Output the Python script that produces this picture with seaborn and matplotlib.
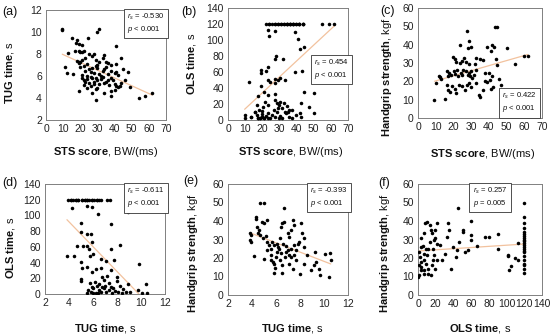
import matplotlib
matplotlib.use("Agg")
import matplotlib.pyplot as plt
import numpy as np
import pandas as pd
import seaborn as sns

# ---------------------------------------------------------------------------
# data (approximate)
# ---------------------------------------------------------------------------
# (a) STS score vs TUG time
sts_a = [9.5, 9.6, 15, 18, 17.5, 24.5, 30, 31, 41, 19, 21,
         13, 17, 19, 20, 21, 22, 25, 28, 34,
         18, 19, 20, 19.5, 21, 23, 27, 29, 31, 33, 35, 36, 41, 44, 24, 30, 38,
         11, 12, 16, 20, 22, 23, 25, 26, 27, 28, 29, 30, 31, 33, 34, 35, 36,
         38, 40, 41, 42, 45, 48, 21, 24, 32,
         21, 22, 23, 24, 25, 26, 27, 28, 29, 30, 31, 32, 33, 34, 35, 36, 37,
         38, 39, 40, 41, 42, 43, 44, 46, 49, 26, 28, 22,
         19.5, 24, 27, 29, 34, 38, 38, 40, 54, 58, 62, 29, 30]
tug_a = [10.3, 10.2, 9.5, 9.3, 9.0, 9.5, 10.0, 10.3, 8.7, 8.9, 8.8,
         8.1, 8.3, 8.3, 8.2, 8.2, 8.3, 8.0, 8.0, 7.9,
         7.4, 7.3, 7.3, 7.2, 7.5, 7.6, 7.8, 7.5, 7.3, 7.6, 7.3, 7.2, 7.1, 7.6,
         7.1, 7.0, 7.0,
         6.8, 6.3, 6.2, 6.8, 6.9, 6.5, 6.6, 6.4, 6.7, 6.3, 6.9, 6.7, 6.2, 6.5,
         6.6, 6.8, 6.2, 6.5, 6.3, 6.4, 6.1, 6.6, 6.4, 6.1, 6.0, 6.0,
         5.8, 5.6, 5.5, 5.7, 5.4, 5.9, 5.8, 5.5, 5.8, 5.6, 5.3, 5.7, 5.9, 5.4,
         5.5, 5.6, 5.2, 5.8, 5.6, 5.3, 5.1, 5.0, 5.1, 5.4, 5.6, 5.0, 5.1, 5.3,
         5.2,
         4.6, 4.9, 4.5, 3.8, 4.5, 4.6, 4.2, 4.7, 4.0, 4.2, 4.5, 4.8, 4.9]

# (b) STS score vs OLS time (many subjects capped at 120 s, dots overlap)
sts_b = [22, 24, 25.8, 27.5, 29.2, 31, 32.8, 34.5, 36.2, 38, 39.7, 41.5,
         43.5, 55, 59, 62,
         24, 27.5, 31, 34.5, 38, 41.5, 43.5, 36.2, 29.2, 39.7,
         32.8, 34.5, 36.2, 38, 41.5, 43.5,
         23.2, 24, 27.2, 39.1, 41.1, 41.9, 44.4, 27.2, 28, 32,
         19.2, 19.2, 23.2, 22.4, 39.1, 43.1, 12.3, 19.2, 23.6, 24.6, 27.2, 27.6,
         29.4, 30.6, 33.5, 21.2, 17.7, 23.2, 27.2, 44.2, 50.4,
         21.4, 23.6, 27.6, 28.6, 29.6, 30.6, 32.5, 34.5, 16.7, 18.1, 19.6, 20.6,
         42.5, 47, 50.4,
         9.7, 10.1, 13.7, 15.7, 16.7, 17.7, 18.7, 19.6, 20.1, 21.2, 22, 23.2,
         23.6, 24.6, 25.6, 26.6, 27.6, 28.6, 29.6, 30.6, 31.5, 33.1, 33.9, 35.1,
         35.5, 37.5, 39.5, 41.9, 42.5, 29.2, 31.5, 35.5, 37.5,
         13.7, 15.7, 17.7, 18.7, 19.6, 21.2]
ols_b = [120] * 32 + \
        [113, 104.6, 110.9, 109.6, 101.7, 88.7, 90.8, 76.6, 79.5, 76.6,
         62.8, 58.6, 65.7, 60.7, 59.8, 61.5, 47.3, 42.7, 50.2, 48.1, 46, 51.5,
         50.2, 52.3, 50.2, 34.7, 30.5, 31.4, 32.2, 35.6, 34.3,
         22.2, 18.8, 25.1, 20.9, 18.8, 23, 20.9, 18, 18.8, 12.6, 11.3, 16.7,
         20.9, 16.7, 9.2,
         2, 6.3, 4.2, 9.6, 6.3, 2.9, 2.1, 4.2, 7.1, 2.1, 5.4, 8.4,
         2.9, 2.1, 6.3, 12.6, 4.2, 10.5, 2.1, 5.4, 2.1, 10.5, 8.4, 10.5,
         4.2, 2.9, 6.3, 8.4, 4.2, 14.6, 14.6, 12.6, 12.6,
         4.2, 9.6, 2.9, 2.1, 4.2, 2.1]

# (c) STS score vs handgrip strength
sts_c = [43.2, 44.4, 27.6, 23.7, 29, 28, 30, 38.9, 41.8, 42.8, 41.2, 50.3,
         19.5, 20.7, 26, 32.9, 34.9, 36.5, 21.5, 23.5, 25, 27, 29, 31.9,
         44.8, 55, 59.6, 62, 43.8,
         16.2, 17.6, 18.7, 20.1, 21.1, 22.1, 22.7, 24.1, 25, 25.4, 27, 28, 29,
         29.4, 30, 30.6, 31.4, 32.9, 37.9, 39.8, 41.8, 45.8, 40.8, 38.9,
         10.3, 12.8, 11.6, 16.2, 16.8, 18.1, 19.1, 20.7, 21.5, 23.1, 24.6,
         26.6, 27.4, 30, 32.9, 34.9, 34.5, 41.2, 42.4, 47.1, 36.9, 37.9, 29,
         9.3, 15.2, 12.2, 16.8]
grip_c = [49.5, 49.6, 47.3, 39.6, 41.8, 38.2, 38.5, 38.5, 39.6, 38.5, 36.7,
          38.2,
          33.1, 32.4, 32.7, 32.7, 32.4, 31.8, 30.5, 30, 30.9, 30.5, 29.5, 29.5,
          28.7, 29.5, 33.6, 33.6, 32.4,
          25.8, 24.5, 23.6, 25.5, 24, 26.4, 22.7, 24.5, 23.6, 26.4, 25.5, 23.6,
          24.5, 22.7, 25.8, 21.8, 23.6, 26.4, 24.5, 24.5, 22.7, 21.5, 20.9,
          19.6,
          19.1, 21.5, 22.7, 18.2, 15.5, 14.2, 17.3, 16, 13.6, 18.2, 17.3, 15.5,
          18.2, 16.7, 19.1, 11.3, 12.4, 16, 16.7, 17.8, 15.5, 20, 19.1,
          10, 10.4, 22.2, 22.7]

# (d) TUG time vs OLS time
tug_d = [3.95, 4.15, 4.35, 4.55, 4.75, 5.1, 5.3, 5.5, 5.7, 5.9, 6.1, 6.3,
         6.5, 6.7, 7.2, 7.45,
         4.15, 4.55, 5.1, 5.5, 5.9, 6.3, 4.75, 5.3,
         4.23, 5.46, 5.94, 6.4, 8.91, 5.03, 4.97, 5.46, 5.83, 7.54, 5.94, 8.23,
         3.83, 4.4, 4.69, 5.17, 5.46, 5.66, 6.03, 6.69, 7.09, 5.74, 7.46, 7.74,
         9.83,
         4.97, 5.09, 5.46, 5.89, 6.23, 6.69, 7.17, 7.46, 8.03,
         4.97, 5.03, 5.74, 5.89, 6.17, 6.31, 6.51, 6.74, 6.89, 7.03, 7.31,
         7.66, 8.03, 8.23, 8.46, 8.89, 9.09, 9.74, 10.4, 10.46, 10.1,
         5.6, 5.83, 6.03, 6.23, 6.46, 6.69, 6.89, 7.09, 7.31, 7.6, 7.83, 8.11,
         8.4, 8.74, 6.74, 6.4, 6.03, 5.54, 7.54]
ols_d = [120] * 24 + \
        [110, 112, 111, 102, 104.4, 90.5, 79, 77, 77, 88.8, 66.4, 62.2,
         49, 49, 61, 61, 61, 56.7, 50.7, 44, 42.3, 48.2, 57.9, 43.1, 38.1,
         40.6, 32.6, 33.8, 28.3, 31.3, 32.6, 22.8, 30.4, 22,
         18.6, 16.9, 13.5, 9.3, 15.6, 10.1, 12.7, 21.1, 17.8, 10.1, 13.5,
         7.2, 16.9, 10.1, 5.9, 12.7, 3, 5.1, 12.7, 1.7, 1.7,
         5.1, 3, 7.2, 1.7, 5.1, 2.5, 7.2, 3, 5.1, 1.7, 4.2, 2.5,
         1.7, 2.5, 9.3, 0.8, 0.8, 0.8, 8.5]

# (e) TUG time vs handgrip strength
tug_e = [4.65, 5.04, 6.68, 4.34, 4.37, 3.86, 3.92, 3.86, 3.92, 4.2,
         4.42, 4.56, 4.85, 5.04, 5.21, 4.48, 4.7, 4.93, 5.13, 5.27,
         5.41, 5.21, 4.99, 5.55, 5.61, 5.77, 5.83, 5.89, 5.97, 6.11, 6.17,
         6.34, 6.45, 6.54, 6.68, 6.96, 7.1, 7.24, 7.38, 7.46,
         6.62, 6.82, 6.96, 7.1, 7.24, 7.52, 7.66, 7.8, 7.94, 8.08, 8.14, 8.31,
         8.37,
         6.34, 6.54, 6.73, 7.1, 7.38, 7.66, 8.03, 8.37, 8.59, 8.93, 9.15, 9.35,
         9.27, 9.63, 9.55, 10.06, 10.48, 10.39, 10.56,
         5.83, 6.54,
         5.55, 5.69, 5.83, 6.06, 6.25, 6.39, 6.82, 7.24, 7.52]
grip_e = [49.5, 49.9, 46.8, 42, 40.9, 33.6, 32.4, 30, 28.8, 21,
          36.9, 35.1, 39.6, 38.7, 40.5, 33.3, 32.4, 30.6, 31.8, 28.8,
          26.9, 24.2, 19.7, 21.5, 18.8, 17.9, 17, 14.8, 20.6, 23.3, 26,
          30.6, 36.9, 38.7, 39.6, 33.3, 31.5, 35.1, 40.5, 37.8,
          27.5, 26.4, 24.2, 21.5, 25.1, 26.9, 24.2, 27.8, 28.8, 38.7, 33.3,
          30.6, 26,
          18.8, 16.1, 20.6, 17, 14.3, 18.8, 11.6, 17, 21.5, 13.4, 16.1, 17.9,
          23.3, 10.7, 14.3, 22.4, 22.8, 9.8, 18.8,
          11.9, 11.9,
          25.1, 28.8, 26.9, 27.8, 25.1, 22.8, 23.3, 20.6, 21.5]

# (f) OLS time vs handgrip strength
ols_f = [120] * 22 + \
        [102.4, 104.7, 110, 113, 102, 112.6,
         45.7, 60.2, 89.8, 76, 80, 90.6, 101.6, 66.1, 60.2, 60.2, 56.3, 53.5,
         50.4, 50.9, 46.1, 44.5, 42.5, 39.4, 37.8, 32.7, 35.4, 33.9, 30.7,
         26.8, 24.8, 20.9, 19.7, 18.9, 20.9, 17,
         3.1, 3.9, 1.2, 2.4, 3.1, 1.2, 3.9, 6.3, 9.1, 10.2, 11.8, 13, 7.1,
         7.9, 10.2, 13, 14.2, 15.7, 18.1, 1.2, 6.3, 11, 14.2, 5.1, 9.1, 6.3,
         16.9, 19.7, 15.7, 18.1, 22, 7.1, 11.8, 3.1, 0.3]
grip_f = [50, 42, 39, 36, 34, 33, 32, 31, 30, 29, 28, 27, 26, 25, 24, 23,
          21, 19, 17, 16, 14, 12] + \
         [13.4, 15.6, 20, 19, 21, 28.2,
          46.8, 40.1, 32.9, 31.1, 31.1, 24.6, 21.5, 26.4, 32.4, 29.7, 24.2,
          23.3, 35.4, 34.2, 28.8, 24.2, 20.3, 26, 14.3, 31.5, 35.1, 38.7,
          22.4, 18.8, 26.9, 38.7, 35.1, 30.6, 27.8, 25.1,
          30.6, 26, 23.3, 20.6, 17.9, 16.1, 15.2, 18.8, 17, 21.5, 25.1, 28.8,
          33.3, 38.7, 39.6, 37.8, 35.1, 33.3, 29.7, 10.7, 11.2, 11.6, 10.7,
          26.4, 25.1, 22.4, 18.8, 14.3, 16.1, 21.5, 18.8, 13.4, 14.3, 13.7,
          9.8]

# ---------------------------------------------------------------------------
# style
# ---------------------------------------------------------------------------
sns.set_theme(style="white")
plt.rcParams["font.family"] = ["Liberation Sans", "DejaVu Sans"]
plt.rcParams["mathtext.fontset"] = "custom"
plt.rcParams["mathtext.rm"] = "Liberation Sans"
plt.rcParams["mathtext.it"] = "Liberation Sans:italic"
plt.rcParams["mathtext.bf"] = "Liberation Sans:bold"

LINHA = "#F2C29E"
MOLDURA = "#808080"

W, H = 550, 336
fig = plt.figure(figsize=(W / 100, H / 100), dpi=100)


def eixo(esq, topo, dir_, base):
    """Axes placed in pixel coords of the 550x336 canvas."""
    return fig.add_axes([esq / W, 1 - base / H, (dir_ - esq) / W,
                         (base - topo) / H])


paineis = [
    dict(x=sts_a, y=tug_a, pos=(46, 10, 166, 120), xlim=(0, 70),
         ylim=(2, 12), xt=range(0, 71, 10), yt=range(2, 13, 2),
         xl=r"$\bf{STS\ score}$, BW/(ms)", yl=r"$\bf{TUG\ time}$, s",
         xlc=(0.5, -0.29), ylc=(-0.30, 0.43), txt=(0.675, 0.88),
         rs="-0.530", p="< 0.001", tag="(a)", tagpos=(2, 12)),
    dict(x=sts_b, y=ols_b, pos=(228, 8, 348, 120), xlim=(0, 70),
         ylim=(0, 140), xt=range(0, 71, 10), yt=range(0, 141, 20),
         xl=r"$\bf{STS\ score}$, BW/(ms)", yl=r"$\bf{OLS\ time}$, s",
         xlc=(0.52, -0.286), ylc=(-0.30, 0.5), txt=(0.717, 0.455),
         rs="0.454", p="< 0.001", tag="(b)", tagpos=(181, 12)),
    dict(x=sts_c, y=grip_c, pos=(418, 8, 542, 118), xlim=(0, 70),
         ylim=(0, 60), xt=range(0, 71, 10), yt=range(0, 61, 10),
         xl=r"$\bf{STS\ score}$, BW/(ms)", yl=r"$\bf{Handgrip\ strength}$, kgf",
         xlc=(0.52, -0.33), ylc=(-0.25, 0.37), txt=(0.677, 0.14),
         rs="0.422", p="< 0.001", tag="(c)", tagpos=(380, 11)),
    dict(x=tug_d, y=ols_d, pos=(45, 184, 165, 294), xlim=(2, 12),
         ylim=(0, 140), xt=range(2, 13, 2), yt=range(0, 141, 20),
         xl=r"$\bf{TUG\ time}$, s", yl=r"$\bf{OLS\ time}$, s",
         xlc=(0.5, -0.31), ylc=(-0.29, 0.42), txt=(0.683, 0.877),
         rs="-0.611", p="< 0.001", tag="(d)", tagpos=(2, 183)),
    dict(x=tug_e, y=grip_e, pos=(228, 184, 348, 295), xlim=(2, 12),
         ylim=(0, 60), xt=range(2, 13, 2), yt=range(0, 61, 10),
         xl=r"$\bf{TUG\ time}$, s", yl=r"$\bf{Handgrip\ strength}$, kgf",
         xlc=(0.54, -0.305), ylc=(-0.29, 0.38), txt=(0.683, 0.88),
         rs="-0.393", p="< 0.001", tag="(e)", tagpos=(183, 181)),
    dict(x=ols_f, y=grip_f, pos=(418, 184, 542, 295), xlim=(0, 140),
         ylim=(0, 60), xt=range(0, 141, 20), yt=range(0, 61, 10),
         xl=r"$\bf{OLS\ time}$, s", yl=r"$\bf{Handgrip\ strength}$, kgf",
         xlc=(0.5, -0.305), ylc=(-0.27, 0.38), txt=(0.44, 0.88),
         rs="0.257", p="= 0.005", tag="(f)", tagpos=(378, 183)),
]

for pn in paineis:
    ax = eixo(*pn["pos"])
    df = pd.DataFrame({"x": pn["x"], "y": pn["y"]})
    sns.regplot(data=df, x="x", y="y", ax=ax, scatter=False, ci=None,
                line_kws=dict(color=LINHA, lw=0.9))
    sns.scatterplot(data=df, x="x", y="y", ax=ax, color="black", s=6.5,
                    marker="o", linewidth=0, zorder=3)
    ax.set_xlim(*pn["xlim"])
    ax.set_ylim(*pn["ylim"])
    ax.set_xticks(list(pn["xt"]))
    ax.set_yticks(list(pn["yt"]))
    ax.tick_params(direction="in", length=2, width=0.6, color=MOLDURA,
                   labelsize=7.5, pad=3, labelcolor="#222222")
    for sp in ax.spines.values():
        sp.set_color(MOLDURA)
        sp.set_linewidth(0.7)

    ax.set_xlabel(pn["xl"], fontsize=8, color="#111111")
    ax.set_ylabel(pn["yl"], fontsize=8, color="#111111")
    ax.xaxis.set_label_coords(*pn["xlc"])
    ax.yaxis.set_label_coords(*pn["ylc"])
    ax.xaxis.label.set_va("center")
    ax.yaxis.label.set_va("center")

    ax.text(pn["txt"][0], pn["txt"][1],
            r"$r_s$ = " + pn["rs"] + "\n" + r"$p$ " + pn["p"],
            transform=ax.transAxes, fontsize=5.5, va="center", ha="left",
            linespacing=1.3, color="#111111",
            bbox=dict(boxstyle="square,pad=0.45", facecolor="white",
                      edgecolor="#333333", linewidth=0.6))

    fig.text(pn["tagpos"][0] / W, 1 - pn["tagpos"][1] / H, pn["tag"],
             fontsize=9, va="center", ha="left", color="#111111")

plt.savefig("out.png", dpi=100)
